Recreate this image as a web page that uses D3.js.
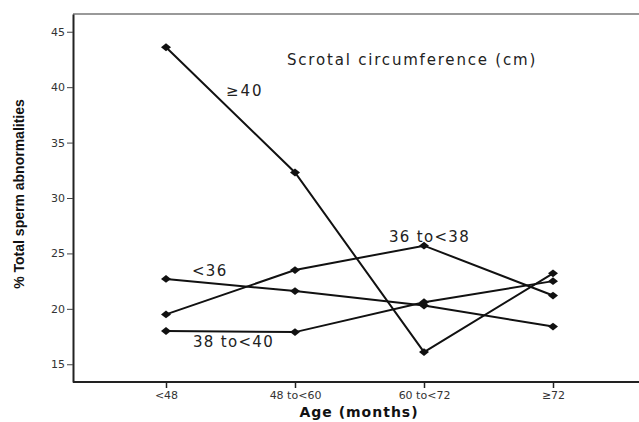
<!DOCTYPE html>
<html>
<head>
<meta charset="utf-8">
<script src="https://cdn.jsdelivr.net/npm/d3@7"></script>
<style>
  body { margin: 0; background: #fff; }
  svg { display: block; }
  .tick text { font-family: "DejaVu Sans", sans-serif; font-size: 11px; fill: #333; }
  .anno { font-family: "DejaVu Sans", sans-serif; font-size: 15px; fill: #222; letter-spacing: 1.3px; }
</style>
</head>
<body>
<svg id="chart" width="639" height="422"></svg>
<script>
// age groups on the x axis
const ageGroups = ["<48", "48 to<60", "60 to<72", "\u226572"];

// % total sperm abnormalities per scrotal circumference group
const lt36 = [22.7, 21.6, 20.3, 18.4];
const from36to38 = [19.5, 23.5, 25.7, 21.2];
const from38to40 = [18.0, 17.9, 20.6, 22.5];
const ge40 = [43.6, 32.3, 16.1, 23.2];

const yTicks = [15, 20, 25, 30, 35, 40, 45];

const series = [
    { name: "<36", values: lt36 },
    { name: "36 to<38", values: from36to38 },
    { name: "38 to<40", values: from38to40 },
    { name: "\u226540", values: ge40 }
];

const svg = d3.select("#chart");
const margin = { top: 14, right: 0, bottom: 40, left: 73 };
const width = 639 - margin.left - margin.right;
const height = 422 - margin.top - margin.bottom;

const g = svg.append("g").attr("transform", "translate(" + margin.left + "," + margin.top + ")");

const x = d3.scalePoint().domain(ageGroups).range([93, 480]);
const y = d3.scaleLinear().domain([13.4, 46.6]).range([height, 0]);

// frame top line
g.append("line")
    .attr("x1", 0).attr("x2", width).attr("y1", 0).attr("y2", 0)
    .attr("stroke", "#999").attr("stroke-width", 2);

const xAxis = g.append("g")
    .attr("transform", "translate(0," + height + ")")
    .call(d3.axisBottom(x).tickSizeOuter(0).tickSize(6).tickPadding(3));
xAxis.select(".domain").attr("d", "M0,0H" + width).attr("stroke", "#222").attr("stroke-width", 2);
xAxis.selectAll(".tick line").attr("stroke", "#222").attr("stroke-width", 1.5);

const yAxis = g.append("g")
    .call(d3.axisLeft(y).tickValues(yTicks).tickSize(6).tickSizeOuter(0).tickPadding(2));
yAxis.select(".domain").attr("stroke", "#222").attr("stroke-width", 2);
yAxis.selectAll(".tick line").attr("stroke", "#444");

const line = d3.line()
    .x((d, i) => x(ageGroups[i]))
    .y(d => y(d));

g.selectAll(".series")
    .data(series)
    .enter()
    .append("path")
    .attr("class", "series")
    .attr("d", d => line(d.values))
    .attr("fill", "none")
    .attr("stroke", "#111")
    .attr("stroke-width", 2);

const diamond = d3.symbol().type(d3.symbolDiamond2).size(48);
series.forEach(s => {
    g.selectAll(null)
        .data(s.values)
        .enter()
        .append("path")
        .attr("d", diamond)
        .attr("transform", (d, i) => "translate(" + x(ageGroups[i]) + "," + y(d) + ") scale(1.15,0.9)")
        .attr("fill", "#111");
});

// annotations inside the plot
g.append("text").attr("class", "anno").attr("x", 214).attr("y", 51).style("letter-spacing", "1.8px").text("Scrotal circumference (cm)");
g.append("text").attr("class", "anno").attr("x", 153).attr("y", 82).style("letter-spacing", "2px").text("\u226540");
g.append("text").attr("class", "anno").attr("x", 119).attr("y", 262).text("<36");
g.append("text").attr("class", "anno").attr("x", 120).attr("y", 333).text("38 to<40");
g.append("text").attr("class", "anno").attr("x", 316).attr("y", 228).text("36 to<38");

// axis titles
svg.append("text")
    .attr("x", 359).attr("y", 417)
    .attr("text-anchor", "middle")
    .style("font-family", "DejaVu Sans, sans-serif")
    .style("font-weight", "bold")
    .style("font-size", "14px")
    .style("letter-spacing", "1px")
    .attr("fill", "#111")
    .text("Age (months)");

svg.append("text")
    .attr("transform", "translate(24,194) rotate(-90)")
    .attr("text-anchor", "middle")
    .style("font-family", "Liberation Sans, sans-serif")
    .style("font-weight", "bold")
    .style("font-size", "14px")
    .attr("fill", "#111")
    .text("% Total sperm abnormalities");
</script>
</body>
</html>
